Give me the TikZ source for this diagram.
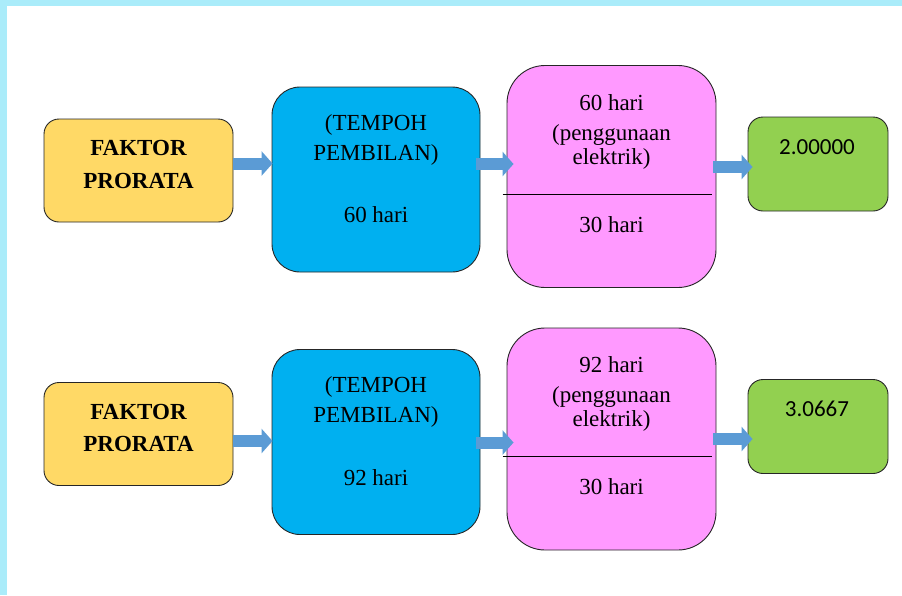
\documentclass[tikz,border=0pt]{standalone}
\usepackage{fontspec}
\setmainfont{Liberation Serif}
\newfontfamily\numfont{Carlito}
\usetikzlibrary{calc,arrows.meta}

\definecolor{bandcyan}{HTML}{AAECFA}
\definecolor{fkyellow}{HTML}{FFD966}
\definecolor{tpblue}{HTML}{00B0F0}
\definecolor{gnpink}{HTML}{FF99FF}
\definecolor{hsgreen}{HTML}{92D050}
\definecolor{arrowblue}{HTML}{5B9BD5}

\tikzset{
	box/.style={draw=black!85, line width=0.9pt, inner sep=0pt},
	faktor/.style={box, fill=fkyellow, rounded corners=15pt, minimum width=189pt, minimum height=103pt},
	tempoh/.style={box, fill=tpblue, rounded corners=28pt, minimum width=208pt, minimum height=185pt},
	guna/.style={box, fill=gnpink, rounded corners=38pt, minimum width=209pt, minimum height=222pt},
	hasil/.style={box, fill=hsgreen, rounded corners=15pt, minimum width=140pt, minimum height=94pt},
	txt/.style={align=center, anchor=base, inner sep=0pt, font=\fontsize{23}{30}\selectfont},
	flow/.style={line width=12pt, color=arrowblue, -{Triangle[length=11pt, width=24pt]}},
}

\begin{document}
\begin{tikzpicture}[x=1pt, y=-1pt]
			%%%%% START %%%%%
			
			\useasboundingbox (0, 0) rectangle (902, 595);
			\fill[bandcyan] (0, 0) rectangle (902, 6);
			\fill[bandcyan] (0, 0) rectangle (7, 595);
			
			% row 1
			\node[faktor] (fk1) at (138.5, 170.5) {};
			\node[tempoh] (tp1) at (376, 179.5) {};
			\node[guna] (gn1) at (611.5, 176.5) {};
			\node[hasil] (hs1) at (818, 164) {};
			
			% base of a text node = base of its last line
			\node[txt, font=\fontsize{23}{32.6}\selectfont\bfseries] (fk1t) at ($(fk1.center)+(0, 17.8)$) {FAKTOR\\PRORATA};
			\node[txt] (tp1t) at ($(tp1.center)+(0, 43.2)$) {(TEMPOH\\PEMBILAN)\\[32.7pt]60 hari};
			\node[txt] (gn1t) at ($(gn1.center)+(0, -12.5)$) {60 hari\\(penggunaan\\[-6pt]elektrik)};
			\node[txt] (gn1b) at ($(gn1.center)+(0, 55.5)$) {30 hari};
			\node[txt, font=\fontsize{23}{30}\numfont] (hs1t) at ($(hs1.center)+(-1, -10)$) {2.00000};
			
			\draw[line width=0.9pt] ($(gn1.west)+(-4, 17.5)$) -- ($(gn1.east)+(-4, 17.5)$);
			
			\draw[flow] ($(fk1.east)+(0, -7)$) -- ($(fk1.east -| tp1.west)+(1, -7)$);
			\draw[flow] ($(tp1.east)+(-4, -15.5)$) -- ($(tp1.east -| gn1.west)+(7, -15.5)$);
			\draw[flow] ($(gn1.east)+(-3, -9.5)$) -- ($(gn1.east -| hs1.west)+(5, -9.5)$);
			
			% row 2
			\node[faktor] (fk2) at (138.5, 434) {};
			\node[tempoh] (tp2) at (376, 442) {};
			\node[guna] (gn2) at (611.5, 439) {};
			\node[hasil] (hs2) at (818, 426.5) {};
			
			\node[txt, font=\fontsize{23}{32.6}\selectfont\bfseries] (fk2t) at ($(fk2.center)+(0, 17.8)$) {FAKTOR\\PRORATA};
			\node[txt] (tp2t) at ($(tp2.center)+(0, 43.2)$) {(TEMPOH\\PEMBILAN)\\[32.7pt]92 hari};
			\node[txt] (gn2t) at ($(gn2.center)+(0, -12.5)$) {92 hari\\(penggunaan\\[-6pt]elektrik)};
			\node[txt] (gn2b) at ($(gn2.center)+(0, 55.5)$) {30 hari};
			\node[txt, font=\fontsize{23}{30}\numfont] (hs2t) at ($(hs2.center)+(-1, -10)$) {3.0667};
			
			\draw[line width=0.9pt] ($(gn2.west)+(-4, 17.5)$) -- ($(gn2.east)+(-4, 17.5)$);
			
			\draw[flow] ($(fk2.east)+(0, 7)$) -- ($(fk2.east -| tp2.west)+(1, 7)$);
			\draw[flow] ($(tp2.east)+(-4, 0.5)$) -- ($(tp2.east -| gn2.west)+(7, 0.5)$);
			\draw[flow] ($(gn2.east)+(-3, 0)$) -- ($(gn2.east -| hs2.west)+(5, 0)$);
			
			%%%%% END %%%%%
\end{tikzpicture}
\end{document}
